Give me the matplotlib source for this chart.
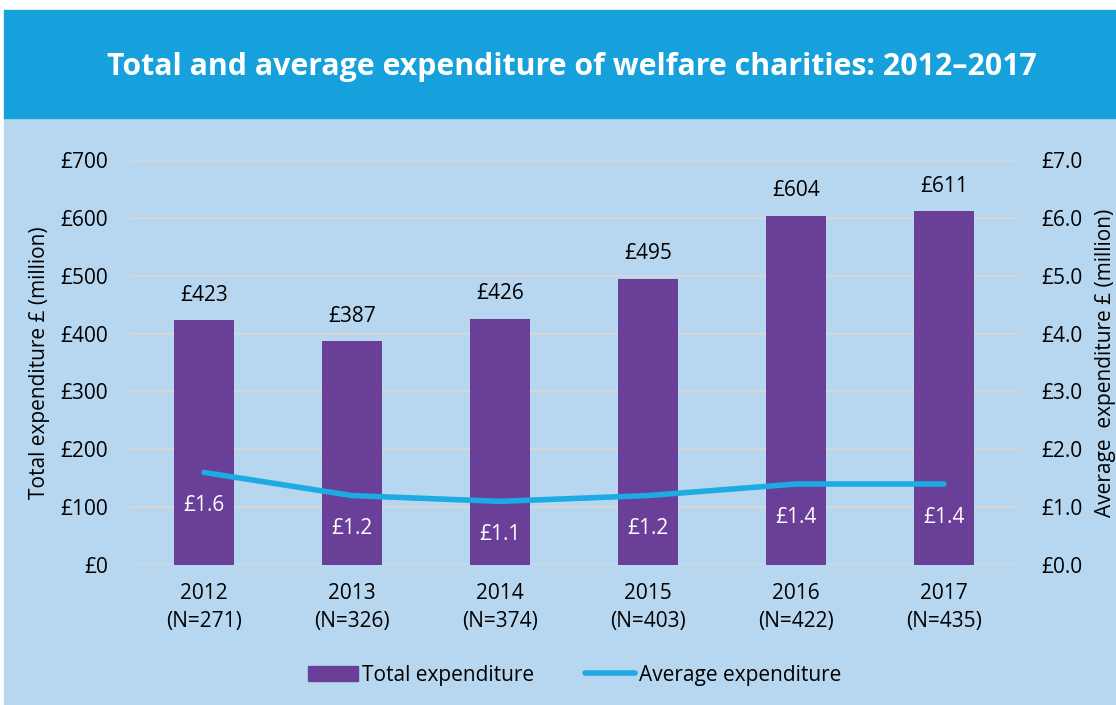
import matplotlib
matplotlib.use("Agg")
import matplotlib.pyplot as plt
from matplotlib.patches import Rectangle, Patch
from matplotlib.lines import Line2D

years = ["2012", "2013", "2014", "2015", "2016", "2017"]
counts = [271, 326, 374, 403, 422, 435]
total = [423, 387, 426, 495, 604, 611]
average = [1.6, 1.2, 1.1, 1.2, 1.4, 1.4]

HEADER = "#17a1dc"
BG = "#b7d7f0"
BAR = "#6a3f98"
LINE = "#1eaae2"
GRID = "#d6d6d6"
FS = 15

plt.rcParams["font.family"] = ["Open Sans", "DejaVu Sans"]

fig = plt.figure(figsize=(11.16, 7.05), dpi=100)
fig.patch.set_facecolor("white")

# banner + light background
fig.patches.append(Rectangle((4 / 1116, 0), 1 - 4 / 1116, (705 - 118) / 705,
                             transform=fig.transFigure, color=BG, zorder=-10))
fig.patches.append(Rectangle((4 / 1116, (705 - 118) / 705), 1 - 4 / 1116, 108 / 705,
                             transform=fig.transFigure, color=HEADER, zorder=-10))
fig.text(0.512, (705 - 67) / 705,
         "Total and average expenditure of welfare charities: 2012\u20132017",
         ha="center", va="center", color="white", fontsize=21.8, fontweight="bold")

ax = fig.add_axes([130 / 1116, (705 - 565) / 705, 888 / 1116, 405 / 705])
ax.set_facecolor("none")
x = list(range(len(years)))
bars = ax.bar(x, total, width=0.4, color=BAR, zorder=2)
ax.set_ylim(0, 700)
ax.set_xlim(-0.5, len(years) - 0.5)
ax.set_yticks(range(0, 701, 100))
ax.set_yticklabels([f"£{v}" for v in range(0, 701, 100)])
ax.set_xticks(x)
ax.set_xticklabels([f"{y}\n(N={n})" for y, n in zip(years, counts)], linespacing=1.45)
ax.grid(axis="y", color=GRID, lw=1.5, zorder=0)
ax.set_axisbelow(True)
for s in ax.spines.values():
    s.set_visible(False)
ax.tick_params(length=0, labelsize=FS)
ax.tick_params(axis="y", pad=16)
ax.tick_params(axis="x", pad=13)
ax.set_ylabel("Total expenditure £ (million)", fontsize=FS, labelpad=7)
for xi, v in zip(x, total):
    ax.annotate(f"£{v}", (xi, v), xytext=(0, 18), textcoords="offset points",
                ha="center", va="center", fontsize=FS)

ax2 = ax.twinx()
ax2.set_ylim(0, 7)
ax2.set_yticks(range(0, 8))
ax2.set_yticklabels([f"£{v:.1f}" for v in range(0, 8)])
for s in ax2.spines.values():
    s.set_visible(False)
ax2.tick_params(length=0, labelsize=FS, pad=17)
ax2.set_ylabel("Average  expenditure £ (million)", fontsize=FS, labelpad=9)
ax2.plot(x, average, color=LINE, lw=4, solid_capstyle="round", zorder=3)
for xi, v in zip(x, average):
    ax2.annotate(f"£{v}", (xi, v), xytext=(0, -24), textcoords="offset points",
                 ha="center", va="center", fontsize=FS, color="white")

handles = [Patch(color=BAR, label="Total expenditure"),
           Line2D([0], [0], color=LINE, lw=4, solid_capstyle="round",
                  label="Average expenditure")]
fig.legend(handles=handles, loc="center", bbox_to_anchor=(0.515, (705 - 675) / 705),
           ncol=2, frameon=False, fontsize=FS, handlelength=2.4,
           handletextpad=0.2, columnspacing=2.4)

fig.savefig("out.png", dpi=100)
